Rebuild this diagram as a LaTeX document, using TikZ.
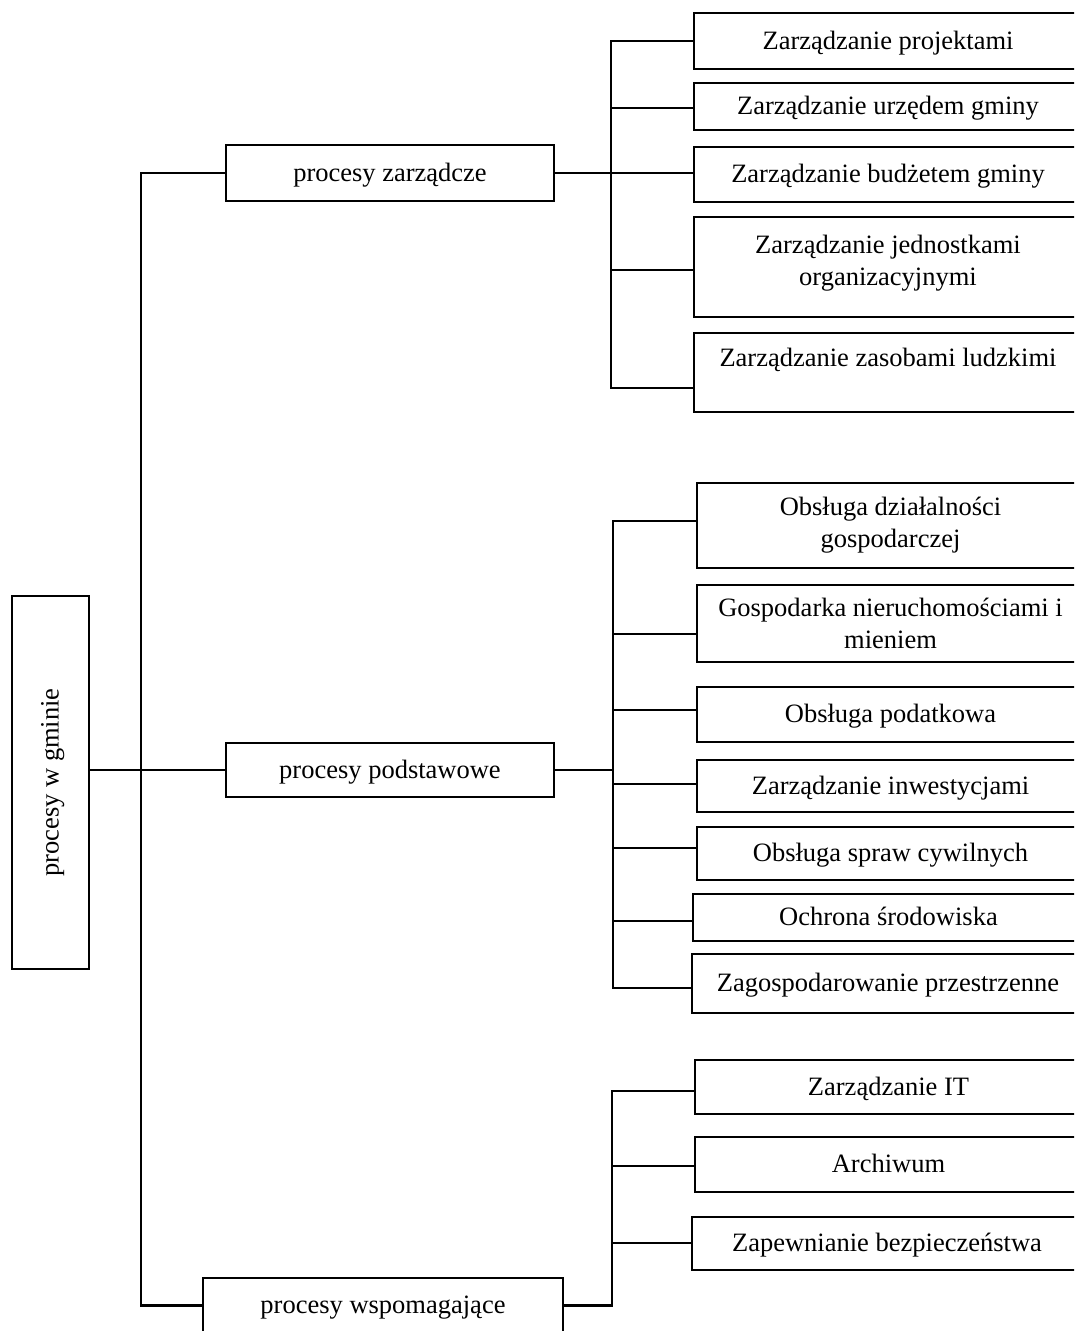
\documentclass[tikz,border=0pt]{standalone}
\usepackage{fontspec}
\setmainfont{Liberation Serif}
\begin{document}
\begin{tikzpicture}[x=1pt,y=-1pt,
  ln/.style={line width=2.6pt, line cap=rect},
  box/.style={draw, line width=2.3pt, inner sep=0pt, align=center,
    font=\fontsize{26.5}{32}\selectfont},
  one/.style={text height=22pt, text depth=6pt},
  rbox/.style={box, minimum width=388pt}]
\useasboundingbox (0,0) rectangle (1074,1331);
\fill[white] (0,0) rectangle (1074,1331);
\clip (0,0) rectangle (1074,1331);

% root and level 1
\node[box, one, rotate=90, minimum width=373pt, minimum height=77pt] (root) at (50.5,782.5) {procesy w gminie};
\node[box, one, minimum width=328pt, minimum height=56pt] (zar) at (390,173) {procesy zarządcze};
\node[box, one, minimum width=328pt, minimum height=54pt] (pod) at (390,770) {procesy podstawowe};
\node[box, one, minimum width=360pt, minimum height=55pt] (wsp) at (383,1305.5) {procesy wspomagające};

% group 1
\node[rbox, one, minimum height=56pt] (b1) at (888,41) {Zarządzanie projektami};
\node[rbox, one, minimum height=47pt] (b2) at (888,106.5) {Zarządzanie urzędem gminy};
\node[rbox, one, minimum height=55pt] (b3) at (888,174.5) {Zarządzanie budżetem gminy};
\node[rbox, minimum height=100pt, text depth=14pt] (b4) at (888,267) {Zarządzanie jednostkami\\organizacyjnymi};
\node[rbox, one, minimum height=79pt, text depth=34pt] (b5) at (888,372.5) {Zarządzanie zasobami ludzkimi};

% group 2
\node[rbox, minimum width=387pt, minimum height=85pt] (c1) at (890.5,525.5) {Obsługa działalności\\gospodarczej};
\node[rbox, minimum width=387pt, minimum height=77pt] (c2) at (890.5,623.5) {Gospodarka nieruchomościami i\\mieniem};
\node[rbox, one, minimum width=387pt, minimum height=55pt] (c3) at (890.5,714.5) {Obsługa podatkowa};
\node[rbox, one, minimum width=387pt, minimum height=52pt] (c4) at (890.5,786) {Zarządzanie inwestycjami};
\node[rbox, one, minimum width=387pt, minimum height=53pt] (c5) at (890.5,853.5) {Obsługa spraw cywilnych};
\node[rbox, one, minimum width=391pt, minimum height=47pt] (c6) at (888.5,917.5) {Ochrona środowiska};
\node[rbox, one, minimum width=392pt, minimum height=59pt] (c7) at (888,983.5) {Zagospodarowanie przestrzenne};

% group 3
\node[rbox, one, minimum width=387pt, minimum height=54pt] (d1) at (888.5,1087) {Zarządzanie IT};
\node[rbox, one, minimum width=387pt, minimum height=55pt] (d2) at (888.5,1164.5) {Archiwum};
\node[rbox, one, minimum width=390pt, minimum height=53pt] (d3) at (887,1243.5) {Zapewnianie bezpieczeństwa};

% trunk
\coordinate (tr) at (141,0);
\draw[ln] (zar.west) -| (tr |- wsp.west) -- (wsp.west);
\draw[ln] (root.south |- pod.west) -- (pod.west);

% bus 1
\coordinate (g1) at (611,0);
\draw[ln] (zar.east) -- (zar.east -| g1);
\draw[ln] (g1 |- 0,41) -- (g1 |- 0,388);
\foreach \n/\y in {b1/41,b2/108,b3/173,b4/270,b5/388}
  \draw[ln] (g1 |- 0,\y) -- (\n.west |- 0,\y);

% bus 2
\coordinate (g2) at (613,0);
\draw[ln] (pod.east) -- (pod.east -| g2);
\draw[ln] (g2 |- 0,521) -- (g2 |- 0,988);
\foreach \n/\y in {c1/521,c2/634,c3/710,c4/784,c5/848,c6/921,c7/988}
  \draw[ln] (g2 |- 0,\y) -- (\n.west |- 0,\y);

% bus 3
\coordinate (g3) at (612,0);
\draw[ln] (wsp.east) -- (wsp.east -| g3);
\draw[ln] (g3 |- 0,1091) -- (g3 |- wsp.east);
\foreach \n/\y in {d1/1091,d2/1166,d3/1243}
  \draw[ln] (g3 |- 0,\y) -- (\n.west |- 0,\y);
\end{tikzpicture}
\end{document}
